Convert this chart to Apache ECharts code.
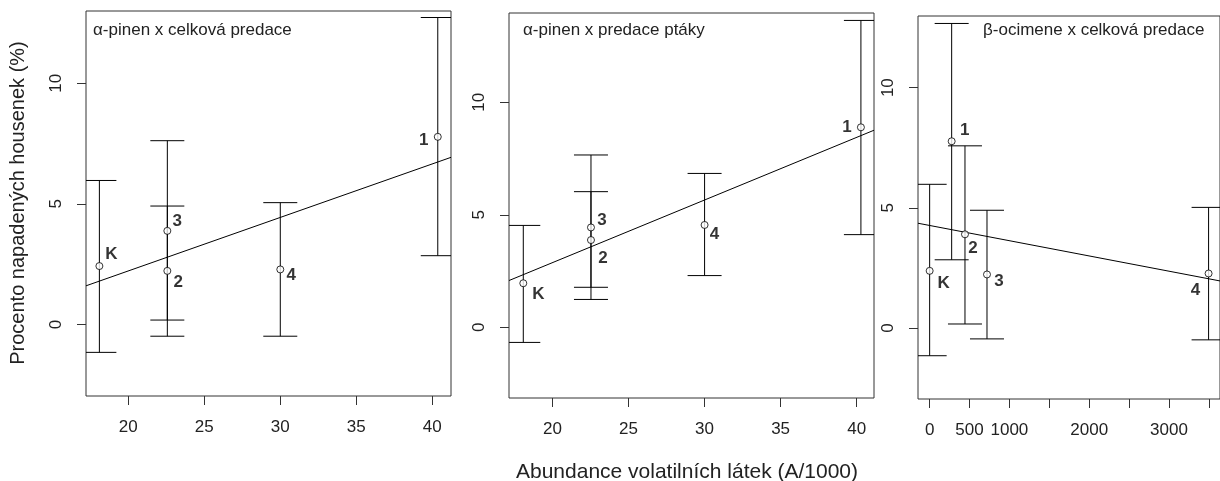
<!DOCTYPE html>
<html>
<head>
<meta charset="utf-8">
<script src="https://cdn.jsdelivr.net/npm/echarts@6/dist/echarts.min.js"></script>
<style>
html,body{margin:0;padding:0;background:#fff;}
#c{width:1220px;height:481px;}
</style>
</head>
<body>
<div id="c"></div>
<script>
// ---- data ----
const titles = ['α-pinen x celková predace', 'α-pinen x predace ptáky', 'β-ocimene x celková predace'];
const yAxisName = 'Procento napadených housenek (%)';
const xAxisName = 'Abundance volatilních látek (A/1000)';

const xTicksA = [20, 25, 30, 35, 40];
const xTicksB = [0, 500, 1000, 1500, 2000, 2500, 3000, 3500];
const xLabelsB = [0, 500, 1000, 2000, 3000];
const yTicks = [0, 5, 10];

// panel 1
const labels1 = ['K', '3', '2', '4', '1'];
const x1 = [18.1, 22.57, 22.57, 30.0, 40.36];
const y1 = [2.42, 3.88, 2.22, 2.28, 7.78];
const lo1 = [-1.16, 0.18, -0.49, -0.49, 2.85];
const hi1 = [5.97, 7.62, 4.91, 5.05, 12.73];
const fit1 = [[17.22, 1.60], [41.23, 6.93]];

// panel 2
const labels2 = ['K', '3', '2', '4', '1'];
const x2 = [18.08, 22.53, 22.53, 30.0, 40.28];
const y2 = [1.96, 4.44, 3.88, 4.55, 8.89];
const lo2 = [-0.67, 1.78, 1.24, 2.30, 4.12];
const hi2 = [4.53, 7.66, 6.03, 6.84, 13.64];
const fit2 = [[17.14, 2.08], [41.14, 8.76]];

// panel 3
const labels3 = ['K', '1', '2', '3', '4'];
const x3 = [0, 276, 443, 719, 3497];
const y3 = [2.38, 7.77, 3.90, 2.23, 2.27];
const lo3 = [-1.15, 2.84, 0.17, -0.45, -0.49];
const hi3 = [5.98, 12.67, 7.58, 4.90, 5.02];
const fit3 = [[-146, 4.36], [3640, 1.96]];

// ---- layout / style ----
const FONT = '"Liberation Sans", Arial, sans-serif';
const TXT = '#222';
const AX = '#333';
const grids = [
  {left: 86, top: 11, width: 365, height: 385},
  {left: 509, top: 13, width: 365, height: 385},
  {left: 918, top: 16, width: 311, height: 383}
];
const xRanges = [[17.22, 41.23], [17.14, 41.14], [-146, 3640]];
const yRanges = [[-2.97, 13.0], [-3.14, 13.97], [-2.95, 12.98]];
const labelOffsets = [
  {K: [12, -12], '3': [10, -10], '2': [11, 11], '4': [11, 6], '1': [-14, 3]},
  {K: [15, 11], '3': [11, -7], '2': [12, 18], '4': [10, 9], '1': [-14, 0]},
  {K: [14, 12], '1': [13, -11], '2': [8, 14], '3': [12, 7], '4': [-13, 17]}
];

const panels = [
  {labels: labels1, x: x1, y: y1, lo: lo1, hi: hi1, fit: fit1},
  {labels: labels2, x: x2, y: y2, lo: lo2, hi: hi2, fit: fit2},
  {labels: labels3, x: x3, y: y3, lo: lo3, hi: hi3, fit: fit3}
];

const plain = v => String(v);

const xAxes = [], yAxes = [], series = [], graphics = [];
panels.forEach((p, i) => {
  const isB = i === 2;
  xAxes.push({
    type: 'value', gridIndex: i, min: xRanges[i][0], max: xRanges[i][1],
    splitLine: {show: false},
    axisLine: {show: false, onZero: false},
    axisTick: {show: true, length: 9, lineStyle: {color: AX}, customValues: isB ? xTicksB : xTicksA},
    axisLabel: {show: true, margin: 23, fontSize: 17, color: TXT, fontFamily: FONT,
      customValues: isB ? xLabelsB : xTicksA, formatter: plain}
  });
  yAxes.push({
    type: 'value', gridIndex: i, min: yRanges[i][0], max: yRanges[i][1],
    splitLine: {show: false},
    axisLine: {show: false, onZero: false},
    axisTick: {show: true, length: 9, lineStyle: {color: AX}, customValues: yTicks},
    axisLabel: {show: true, margin: 21, fontSize: 17, rotate: 90, color: TXT, fontFamily: FONT,
      customValues: yTicks, formatter: plain}
  });
  // error bars
  series.push({
    type: 'custom', xAxisIndex: i, yAxisIndex: i, clip: true, silent: true,
    data: p.x.map((xv, k) => [xv, p.lo[k], p.hi[k]]),
    renderItem: function (params, api) {
      const a = api.coord([api.value(0), api.value(1)]);
      const b = api.coord([api.value(0), api.value(2)]);
      const hw = 17;
      const st = {stroke: '#000', lineWidth: 1};
      return {type: 'group', children: [
        {type: 'line', shape: {x1: a[0], y1: a[1], x2: b[0], y2: b[1]}, style: st},
        {type: 'line', shape: {x1: a[0] - hw, y1: a[1], x2: a[0] + hw, y2: a[1]}, style: st},
        {type: 'line', shape: {x1: b[0] - hw, y1: b[1], x2: b[0] + hw, y2: b[1]}, style: st}
      ]};
    },
    z: 2
  });
  // regression line
  series.push({
    type: 'line', xAxisIndex: i, yAxisIndex: i, data: p.fit, showSymbol: false, symbol: 'none',
    clip: true, silent: true, lineStyle: {color: '#000', width: 1}, z: 3
  });
  // points with labels
  series.push({
    type: 'scatter', xAxisIndex: i, yAxisIndex: i, symbol: 'circle', symbolSize: 7, silent: true,
    itemStyle: {color: '#fff', borderColor: '#000', borderWidth: 1},
    data: p.x.map((xv, k) => ({
      value: [xv, p.y[k]],
      label: {show: true, position: 'inside', offset: labelOffsets[i][p.labels[k]],
        formatter: p.labels[k], fontSize: 17, fontWeight: 'bold', color: '#000', fontFamily: FONT,
        align: 'center', verticalAlign: 'middle'}
    })),
    z: 4
  });
  graphics.push({
    type: 'text', left: [93, 523, 983][i], top: 22,
    style: {text: titles[i], fontSize: 17, fill: TXT, fontFamily: FONT}
  });
});

graphics.push({
  type: 'text', x: 687, y: 472,
  style: {text: xAxisName, fontSize: 21, fill: TXT, fontFamily: FONT, align: 'center', verticalAlign: 'middle'}
});
graphics.push({
  type: 'text', x: 18, y: 203, rotation: Math.PI / 2,
  style: {text: yAxisName, fontSize: 20, fill: TXT, fontFamily: FONT, align: 'center', verticalAlign: 'middle'}
});

const chart = echarts.init(document.getElementById('c'), null, {renderer: 'canvas'});
chart.setOption({
  animation: false,
  backgroundColor: '#fff',
  grid: grids.map(g => Object.assign({show: true, borderColor: AX, borderWidth: 1, backgroundColor: 'transparent'}, g)),
  xAxis: xAxes,
  yAxis: yAxes,
  series: series,
  graphic: graphics
});
</script>
</body>
</html>
